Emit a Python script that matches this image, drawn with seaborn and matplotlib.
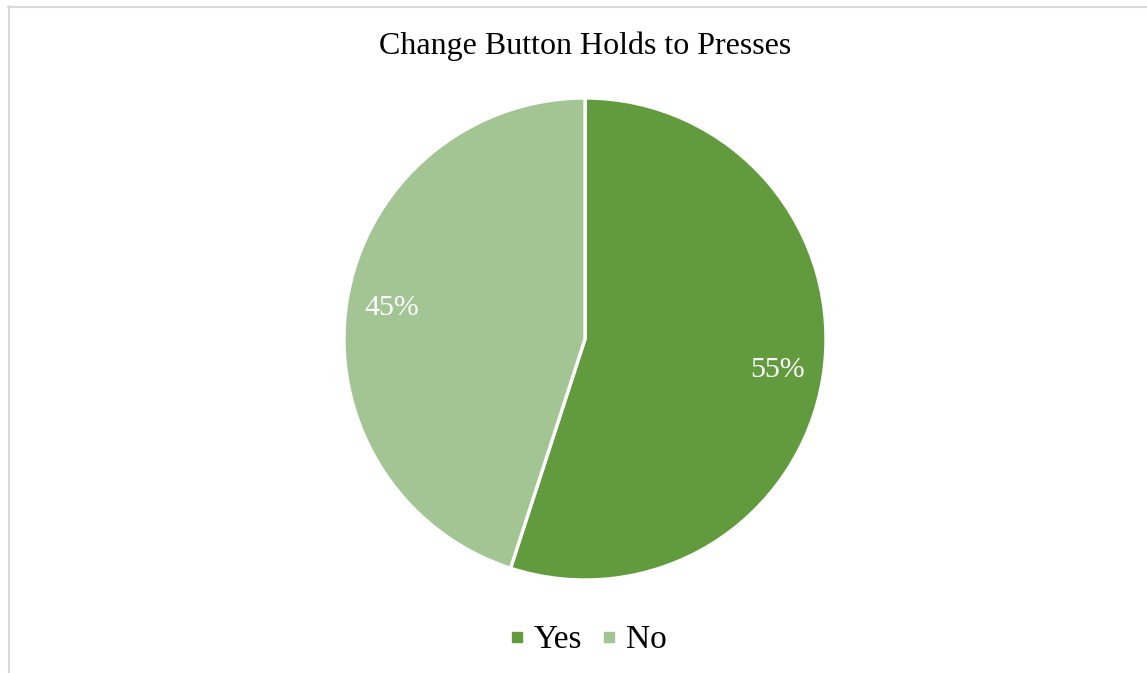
import matplotlib
matplotlib.use("Agg")
import matplotlib.pyplot as plt
from matplotlib.lines import Line2D
import seaborn as sns

# Survey answers
categories = ["Yes", "No"]
shares = [55, 45]
colors = ["#629B3E", "#A3C594"]
title = "Change Button Holds to Presses"

sns.set_theme(style="white")
plt.rcParams["font.family"] = ["Liberation Serif", "DejaVu Serif"]
plt.rcParams["text.color"] = "black"
palette = sns.color_palette(colors)

W, H = 1147, 673
fig = plt.figure(figsize=(W / 100, H / 100), dpi=100)
fig.patch.set_facecolor("white")

# Chart frame (light grey outline)
fig.add_artist(Line2D([8.5 / W, 8.5 / W], [0, 1 - 6 / H], transform=fig.transFigure,
                      color="#D9D9D9", lw=1.5))
fig.add_artist(Line2D([8 / W, 1], [1 - 6.5 / H, 1 - 6.5 / H], transform=fig.transFigure,
                      color="#D9D9D9", lw=1.5))

# Pie axes: centre (585, 339), radius 241 px
cx, cy, r = 585, 339, 241
ax = fig.add_axes([(cx - r) / W, (H - cy - r) / H, 2 * r / W, 2 * r / H])
wedges, _, autotexts = ax.pie(
    shares, colors=palette, startangle=90, counterclock=False,
    autopct=lambda p: f"{p:.0f}%", pctdistance=0.81, radius=1,
    wedgeprops=dict(edgecolor="white", linewidth=2.4),
    textprops=dict(color="white", fontsize=21.5),
)
ax.set_xlim(-1, 1)
ax.set_ylim(-1, 1)
ax.set_aspect("equal")
ax.axis("off")

fig.text(cx / W, 1 - 46 / H, title, ha="center", va="center", fontsize=23, color="black")

handles = [Line2D([], [], marker="s", linestyle="", markersize=7.5,
                  markerfacecolor=c, markeredgecolor=c) for c in palette]
leg = fig.legend(handles, categories, loc="center", bbox_to_anchor=(cx / W, 1 - 640 / H),
                 ncol=2, frameon=False, fontsize=24, handletextpad=0.1, columnspacing=0.4,
                 handlelength=0.8)
for t in leg.get_texts():
    t.set_color("black")

fig.savefig("out.png", dpi=100, facecolor="white")
